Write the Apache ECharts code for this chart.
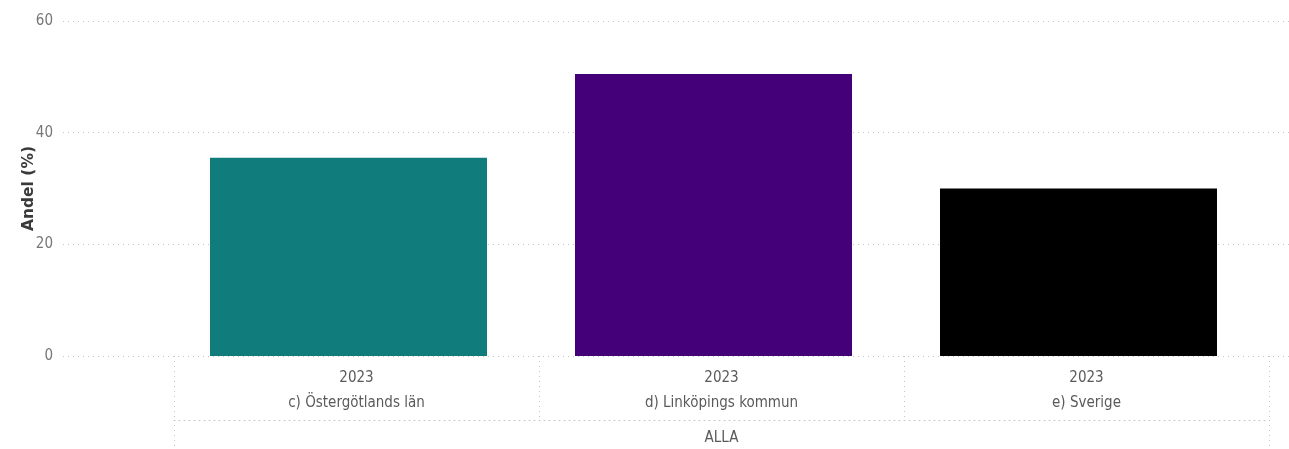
<!DOCTYPE html>
<html>
<head>
<meta charset="utf-8">
<script src="https://cdn.jsdelivr.net/npm/echarts@6/dist/echarts.min.js"></script>
<style>
html,body{margin:0;padding:0;background:#fff;}
#chart{width:1289px;height:449px;}
</style>
</head>
<body>
<div id="chart"></div>
<script>
const regions = ["c) Östergötlands län", "d) Linköpings kommun", "e) Sverige"];
const years = ["2023", "2023", "2023"];
const groupLabels = ["ALLA"];
const values = [35.5, 50.5, 30.0];
const barColors = ["#107c7c", "#430078", "#000000"];
const yTicks = [0, 20, 40, 60];

const FONT = "'Segoe UI', 'Liberation Sans Narrow', 'DejaVu Sans Condensed', 'Open Sans', sans-serif";
const dotted = {type: [1, 4], color: '#c4c4c4', width: 1};

const chart = echarts.init(document.getElementById('chart'));
chart.setOption({
  animation: false,
  backgroundColor: '#ffffff',
  grid: [
    {left: 63, right: 0, top: 21, bottom: 93},
    {left: 166, width: 1095, top: 21, bottom: 93},
    {left: 174, width: 1095, top: 21, bottom: 93}
  ],
  yAxis: [
    {gridIndex: 0, type: 'value', min: yTicks[0], max: yTicks[yTicks.length-1], interval: 20,
     name: 'Andel (%)', nameLocation: 'middle', nameGap: 26, nameRotate: 90, nameMoveOverlap: false,
     nameTextStyle: {fontFamily: "'DejaVu Sans', sans-serif", fontWeight: 'bold', fontSize: 15.5, color: '#3a3a3a'},
     axisLine: {show: false}, axisTick: {show: false},
     axisLabel: {color: '#777777', fontSize: 15, fontFamily: FONT, margin: 10},
     splitLine: {show: true, lineStyle: dotted}},
    {gridIndex: 1, type: 'value', min: 0, max: 60, show: false},
    {gridIndex: 2, type: 'value', min: 0, max: 60, show: false}
  ],
  xAxis: [
    {gridIndex: 0, type: 'category', data: [''], show: false},
    {gridIndex: 1, type: 'category', data: regions, show: false},
    {gridIndex: 2, type: 'category', data: regions, position: 'bottom',
     axisLine: {show: false},
     axisTick: {show: true, length: 62, alignWithLabel: false, lineStyle: dotted},
     axisLabel: {color: '#5a5a5a', fontSize: 15, fontFamily: FONT, margin: 10, lineHeight: 25,
       formatter: function (v, i) { return years[i] + '\n' + v; }},
     splitLine: {show: false}},
    {gridIndex: 2, type: 'category', data: groupLabels, position: 'bottom', offset: 64,
     axisLine: {show: true, lineStyle: dotted},
     axisTick: {show: true, length: 29, alignWithLabel: false, lineStyle: dotted},
     axisLabel: {color: '#5a5a5a', fontSize: 15, fontFamily: FONT, margin: 11},
     splitLine: {show: false}}
  ],
  series: [
    {type: 'bar', xAxisIndex: 1, yAxisIndex: 1, barWidth: 277,
     data: values.map((v, i) => ({value: v, itemStyle: {color: barColors[i]}}))}
  ]
});
</script>
</body>
</html>
